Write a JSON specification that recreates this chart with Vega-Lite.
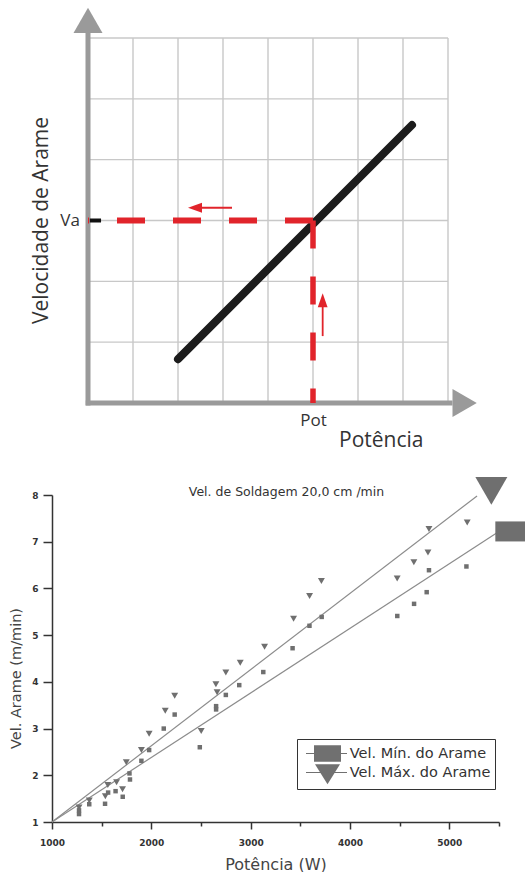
{
 "$schema": "https://vega.github.io/schema/vega-lite/v6.json",
 "background": "white",
 "padding": {"left": 8, "top": 7, "right": 0, "bottom": 0},
 "spacing": 26,
 "config": {"view": {"stroke": null}, "font": "DejaVu Sans"},
 "datasets": {
  "one": [{}],
  "gridX": [{"v":0},{"v":1},{"v":2},{"v":3},{"v":4},{"v":5},{"v":6},{"v":7},{"v":8}],
  "gridY": [{"v":0},{"v":1},{"v":2},{"v":3},{"v":4},{"v":5},{"v":6}],
  "curve": [{"x":2.0,"y":0.72},{"x":7.2,"y":4.57}],
  "fits": [
   {"serie":"Vel. Máx. do Arame","x":1000,"y":1},{"serie":"Vel. Máx. do Arame","x":5279,"y":7.98},
   {"serie":"Vel. Mín. do Arame","x":1000,"y":1},{"serie":"Vel. Mín. do Arame","x":5480,"y":7.19}
  ],
  "points": [
   {"serie":"Vel. Máx. do Arame","x":1272,"y":1.31},{"serie":"Vel. Máx. do Arame","x":1375,"y":1.46},
   {"serie":"Vel. Máx. do Arame","x":1537,"y":1.55},{"serie":"Vel. Máx. do Arame","x":1562,"y":1.79},
   {"serie":"Vel. Máx. do Arame","x":1650,"y":1.85},{"serie":"Vel. Máx. do Arame","x":1710,"y":1.70},
   {"serie":"Vel. Máx. do Arame","x":1748,"y":2.28},{"serie":"Vel. Máx. do Arame","x":1900,"y":2.54},
   {"serie":"Vel. Máx. do Arame","x":1978,"y":2.89},{"serie":"Vel. Máx. do Arame","x":2140,"y":3.38},
   {"serie":"Vel. Máx. do Arame","x":2235,"y":3.70},{"serie":"Vel. Máx. do Arame","x":2502,"y":2.95},
   {"serie":"Vel. Máx. do Arame","x":2650,"y":3.95},{"serie":"Vel. Máx. do Arame","x":2662,"y":3.78},
   {"serie":"Vel. Máx. do Arame","x":2750,"y":4.20},{"serie":"Vel. Máx. do Arame","x":2895,"y":4.41},
   {"serie":"Vel. Máx. do Arame","x":3140,"y":4.75},{"serie":"Vel. Máx. do Arame","x":3432,"y":5.35},
   {"serie":"Vel. Máx. do Arame","x":3593,"y":5.84},{"serie":"Vel. Máx. do Arame","x":3712,"y":6.16},
   {"serie":"Vel. Máx. do Arame","x":4475,"y":6.21},{"serie":"Vel. Máx. do Arame","x":4643,"y":6.56},
   {"serie":"Vel. Máx. do Arame","x":4785,"y":6.77},{"serie":"Vel. Máx. do Arame","x":4795,"y":7.27},
   {"serie":"Vel. Máx. do Arame","x":5180,"y":7.41},
   {"serie":"Vel. Mín. do Arame","x":1272,"y":1.25},{"serie":"Vel. Mín. do Arame","x":1272,"y":1.17},
   {"serie":"Vel. Mín. do Arame","x":1375,"y":1.38},{"serie":"Vel. Mín. do Arame","x":1534,"y":1.39},
   {"serie":"Vel. Mín. do Arame","x":1565,"y":1.63},{"serie":"Vel. Mín. do Arame","x":1640,"y":1.66},
   {"serie":"Vel. Mín. do Arame","x":1712,"y":1.54},{"serie":"Vel. Mín. do Arame","x":1780,"y":2.04},
   {"serie":"Vel. Mín. do Arame","x":1785,"y":1.91},{"serie":"Vel. Mín. do Arame","x":1900,"y":2.31},
   {"serie":"Vel. Mín. do Arame","x":1978,"y":2.54},{"serie":"Vel. Mín. do Arame","x":2125,"y":3.00},
   {"serie":"Vel. Mín. do Arame","x":2235,"y":3.30},{"serie":"Vel. Mín. do Arame","x":2488,"y":2.60},
   {"serie":"Vel. Mín. do Arame","x":2652,"y":3.48},{"serie":"Vel. Mín. do Arame","x":2652,"y":3.41},
   {"serie":"Vel. Mín. do Arame","x":2750,"y":3.72},{"serie":"Vel. Mín. do Arame","x":2885,"y":3.93},
   {"serie":"Vel. Mín. do Arame","x":3127,"y":4.21},{"serie":"Vel. Mín. do Arame","x":3422,"y":4.72},
   {"serie":"Vel. Mín. do Arame","x":3592,"y":5.20},{"serie":"Vel. Mín. do Arame","x":3715,"y":5.39},
   {"serie":"Vel. Mín. do Arame","x":4476,"y":5.41},{"serie":"Vel. Mín. do Arame","x":4645,"y":5.67},
   {"serie":"Vel. Mín. do Arame","x":4772,"y":5.92},{"serie":"Vel. Mín. do Arame","x":4795,"y":6.39},
   {"serie":"Vel. Mín. do Arame","x":5172,"y":6.47}
  ],
  "ends": [
   {"serie":"Vel. Máx. do Arame","x":5423,"y":8.09},
   {"serie":"Vel. Mín. do Arame","x":5618,"y":7.22}
  ]
 },
 "vconcat": [
  {
   "width": 396, "height": 365,
   "layer": [
    {"data": {"name": "gridX"},
     "mark": {"type": "rule", "color": "#c8c8c8", "strokeWidth": 1.4},
     "encoding": {
      "x": {"field": "v", "type": "quantitative", "scale": {"domain": [-0.8, 8], "nice": false, "zero": false},
            "axis": {"values": [5], "labelExpr": "'Pot'", "ticks": false, "tickSize": 0, "domain": false, "grid": false,
                     "labelFont": "Open Sans", "labelFontSize": 17, "labelColor": "#333", "labelPadding": 9,
                     "title": "Potência", "titleFont": "Open Sans", "titleFontSize": 21, "titleFontWeight": "normal",
                     "titleColor": "#333", "titleX": 371, "titleY": 43, "titleAlign": "right", "titleBaseline": "alphabetic", "titleAngle": 0}},
      "y": {"datum": 0, "scale": {"domain": [0, 6], "nice": false, "zero": false},
            "axis": {"title": "Velocidade de Arame", "labels": false, "ticks": false, "domain": false, "grid": false,
                     "titleFont": "Open Sans", "titleFontSize": 21, "titleFontWeight": "normal", "titleColor": "#333",
                     "titleX": -5, "titleY": 182, "titleAngle": -90, "titleAlign": "center", "titleBaseline": "alphabetic"}},
      "y2": {"datum": 6}
     }},
    {"data": {"name": "gridY"},
     "mark": {"type": "rule", "color": "#c8c8c8", "strokeWidth": 1.4},
     "encoding": {
      "y": {"field": "v", "type": "quantitative"},
      "x": {"datum": 0},
      "x2": {"datum": 8}
     }},
    {"data": {"name": "one"},
     "mark": {"type": "rule", "color": "#9a9a9a", "strokeWidth": 5},
     "encoding": {"x": {"datum": 0}, "y": {"datum": -0.04}, "y2": {"datum": 6.1}}},
    {"data": {"name": "one"},
     "mark": {"type": "rule", "color": "#9a9a9a", "strokeWidth": 5},
     "encoding": {"y": {"datum": 0}, "x": {"datum": -0.05}, "x2": {"datum": 8.1}}},
    {"data": {"name": "one"},
     "mark": {"type": "point", "filled": true, "shape": "triangle-up", "size": 841, "color": "#9a9a9a", "opacity": 1},
     "encoding": {"x": {"datum": 0}, "y": {"datum": 6.29}}},
    {"data": {"name": "one"},
     "mark": {"type": "point", "filled": true, "shape": "triangle-right", "size": 784, "color": "#9a9a9a", "opacity": 1},
     "encoding": {"x": {"datum": 8.37}, "y": {"datum": 0}}},
    {"data": {"name": "curve"},
     "mark": {"type": "line", "color": "#1c1c1c", "strokeWidth": 8, "strokeCap": "round"},
     "encoding": {"x": {"field": "x", "type": "quantitative"}, "y": {"field": "y", "type": "quantitative"}}},
    {"data": {"name": "one"},
     "mark": {"type": "rule", "color": "#e1242b", "strokeWidth": 6, "strokeDash": [28, 28]},
     "encoding": {"x": {"datum": 5}, "x2": {"datum": 0}, "y": {"datum": 3}}},
    {"data": {"name": "one"},
     "mark": {"type": "rule", "color": "#e1242b", "strokeWidth": 5.5, "strokeDash": [28, 28]},
     "encoding": {"x": {"datum": 5}, "y": {"datum": 3}, "y2": {"datum": 0}}},
    {"data": {"name": "one"},
     "mark": {"type": "rule", "color": "#111", "strokeWidth": 4},
     "encoding": {"y": {"datum": 3}, "x": {"datum": 0.04}, "x2": {"datum": 0.29}}},
    {"data": {"name": "one"},
     "mark": {"type": "rule", "color": "#e1242b", "strokeWidth": 1.8},
     "encoding": {"y": {"datum": 3.21}, "x": {"datum": 3.2}, "x2": {"datum": 2.45}}},
    {"data": {"name": "one"},
     "mark": {"type": "rule", "color": "#e1242b", "strokeWidth": 1.8},
     "encoding": {"x": {"datum": 5.215}, "y": {"datum": 1.10}, "y2": {"datum": 1.62}}},
    {"data": {"name": "one"},
     "mark": {"type": "point", "filled": true, "shape": "M-1,0L1,-0.7L1,0.7Z", "size": 196, "color": "#e1242b", "opacity": 1},
     "encoding": {"x": {"datum": 2.378}, "y": {"datum": 3.21}}},
    {"data": {"name": "one"},
     "mark": {"type": "point", "filled": true, "shape": "M0,-1L-0.7,1L0.7,1Z", "size": 196, "color": "#e1242b", "opacity": 1},
     "encoding": {"x": {"datum": 5.215}, "y": {"datum": 1.69}}},
    {"data": {"name": "one"},
     "mark": {"type": "text", "font": "Open Sans", "fontSize": 17, "color": "#333", "align": "right", "baseline": "middle"},
     "encoding": {"x": {"datum": -0.18}, "y": {"datum": 3}, "text": {"value": "Va"}}}
   ]
  },
  {
   "width": 447, "height": 327,
   "title": {"text": "Vel. de Soldagem 20,0 cm /min", "frame": "group", "anchor": "middle", "dx": 11, "dy": 34, "offset": 2,
             "baseline": "alphabetic", "font": "DejaVu Sans", "fontSize": 12.5, "fontWeight": "normal", "color": "#333"},
   "layer": [
    {"data": {"name": "fits"},
     "mark": {"type": "line", "color": "#8c8c8c", "strokeWidth": 1.2},
     "encoding": {
      "detail": {"field": "serie"},
      "x": {"field": "x", "type": "quantitative", "scale": {"domain": [1000, 5500], "nice": false, "zero": false},
            "axis": {"values": [1000,1500,2000,2500,3000,3500,4000,4500,5000,5500],
                     "labelExpr": "datum.value % 1000 === 0 ? format(datum.value, 'd') : ''",
                     "labelFlush": false, "labelOverlap": false,
                     "tickSize": {"condition": {"test": "datum.value % 1000 === 0", "value": 7}, "value": 4},
                     "domainColor": "#333", "domainWidth": 1.5, "tickColor": "#333", "tickWidth": 1.5, "grid": false,
                     "labelFont": "DejaVu Sans", "labelFontWeight": "bold", "labelFontSize": 9, "labelColor": "#333", "labelPadding": 9, "labelDx": -2,
                     "title": "Potência (W)", "titleFont": "DejaVu Sans", "titleFontSize": 16, "titleFontWeight": "normal",
                     "titleColor": "#444", "titlePadding": 9}},
      "y": {"field": "y", "type": "quantitative", "scale": {"domain": [1, 8], "nice": false, "zero": false},
            "axis": {"values": [1,1.5,2,2.5,3,3.5,4,4.5,5,5.5,6,6.5,7,7.5,8],
                     "labelExpr": "datum.value % 1 === 0 ? format(datum.value, 'd') : ''",
                     "labelFlush": false, "labelOverlap": false,
                     "tickSize": {"condition": {"test": "datum.value % 1 === 0", "value": 9}, "value": 4.5},
                     "domainColor": "#333", "domainWidth": 1.5, "tickColor": "#333", "tickWidth": 1.5, "grid": false,
                     "labelFont": "DejaVu Sans", "labelFontWeight": "bold", "labelFontSize": 9, "labelColor": "#333", "labelPadding": 5,
                     "title": "Vel. Arame (m/min)", "titleFont": "DejaVu Sans", "titleFontSize": 14.5, "titleFontWeight": "normal",
                     "titleColor": "#444", "titleX": -32, "titleY": 183, "titleAngle": -90, "titleAlign": "center", "titleBaseline": "alphabetic"}}
     }},
    {"data": {"name": "points"},
     "mark": {"type": "point", "filled": true, "color": "#6f6f6f", "opacity": 1},
     "encoding": {
      "x": {"field": "x", "type": "quantitative"},
      "y": {"field": "y", "type": "quantitative"},
      "size": {"condition": {"test": "datum.serie === 'Vel. Mín. do Arame'", "value": 20}, "value": 48},
      "shape": {"condition": {"test": "datum.serie === 'Vel. Mín. do Arame'", "value": "square"}, "value": "triangle-down"}
     }},
    {"data": {"name": "ends"},
     "mark": {"type": "point", "filled": true, "color": "#6f6f6f", "opacity": 1},
     "encoding": {
      "x": {"field": "x", "type": "quantitative"},
      "y": {"field": "y", "type": "quantitative"},
      "size": {"condition": {"test": "datum.serie === 'Vel. Mín. do Arame'", "value": 948}, "value": 1024},
      "shape": {"condition": {"test": "datum.serie === 'Vel. Mín. do Arame'", "value": "M-1,-0.65H1V0.65H-1Z"}, "value": "triangle-down"}
     }},
    {"data": {"name": "ends"},
     "mark": {"type": "point", "filled": true, "color": "#707070", "opacity": 0},
     "encoding": {
      "x": {"field": "x", "type": "quantitative"},
      "y": {"field": "y", "type": "quantitative"},
      "shape": {"field": "serie", "type": "nominal",
                "scale": {"domain": ["Vel. Mín. do Arame", "Vel. Máx. do Arame"],
                          "range": ["M-2.15,-0.06H1.95V0.06H-2.15Z M-1.35,-0.835H1.35V0.835H-1.35Z", "M-2.15,-0.06H1.95V0.06H-2.15Z M-1.25,-0.83H1.25L0,1.17Z"]},
                "legend": {"orient": "none", "legendX": 245, "legendY": 701, "title": null,
                           "padding": 4.5, "strokeColor": "#333", "fillColor": "white",
                           "symbolSize": 400, "symbolOpacity": 1, "symbolFillColor": "#707070", "symbolStrokeWidth": 0,
                           "symbolOffset": 16, "labelOffset": 12.2,
                           "rowPadding": -2.8, "labelFont": "DejaVu Sans", "labelFontSize": 14.5, "labelColor": "#333", "labelLimit": 300}}
     }}
   ]
  }
 ]
}
